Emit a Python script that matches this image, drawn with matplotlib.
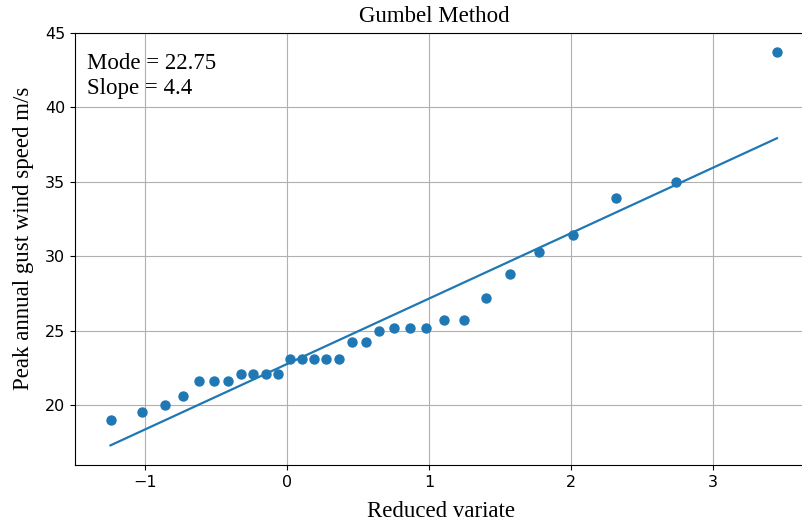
import numpy as np
import matplotlib
matplotlib.use("Agg")
import matplotlib.pyplot as plt

# reduced variate for each ranked observation
reduced_variate = [-1.243, -1.020, -0.862, -0.732, -0.619, -0.515, -0.419, -0.327,
                   -0.238, -0.151, -0.066, 0.019, 0.105, 0.190, 0.277, 0.367,
                   0.458, 0.553, 0.651, 0.755, 0.865, 0.982, 1.108, 1.246,
                   1.399, 1.572, 1.773, 2.013, 2.318, 2.741, 3.450]
# peak annual gust wind speed (m/s), sorted
gust_speed = [19.0, 19.5, 20.0, 20.6, 21.6, 21.6, 21.6, 22.1, 22.1, 22.1, 22.1,
              23.1, 23.1, 23.1, 23.1, 23.1, 24.2, 24.2, 25.0, 25.2, 25.2, 25.2,
              25.7, 25.7, 27.2, 28.8, 30.3, 31.4, 33.9, 35.0, 43.7]

mode = 22.75
slope = 4.4

x = np.array(reduced_variate)
fit_x = np.array([x.min(), x.max()])
fit_y = mode + slope * fit_x

fig = plt.figure(figsize=(8.03, 5.25), dpi=100)
ax = fig.add_axes([0.0934, 0.114, 0.912, 0.823])

ax.scatter(reduced_variate, gust_speed, color="#1f77b4", s=42, zorder=3)
ax.plot(fit_x, fit_y, color="#1f77b4", lw=1.6, zorder=2)

ax.grid(True, color="#b0b0b0")
ax.set_axisbelow(True)

serif = "Liberation Serif"
ax.set_title("Gumbel Method", fontfamily=serif, fontsize=16.5, x=0.49, pad=8)
ax.set_xlabel("Reduced variate", fontfamily=serif, fontsize=16.5, labelpad=8)
ax.set_ylabel("Peak annual gust wind speed m/s", fontfamily=serif, fontsize=16.5)
ax.yaxis.set_label_coords(-0.056, 0.525)
ax.text(0.016, 0.955, "Mode = %s\nSlope = %s" % (mode, slope), transform=ax.transAxes,
        fontfamily=serif, fontsize=16.5, va="top", linespacing=1.25)

ax.set_yticks([20, 25, 30, 35, 40, 45])
ax.set_xticks([-1, 0, 1, 2, 3])
ax.tick_params(labelsize=11.5)
ax.set_ylim(15.95, 45.0)
ax.set_xlim(-1.493, 3.664)

fig.savefig("out.png", dpi=100)
